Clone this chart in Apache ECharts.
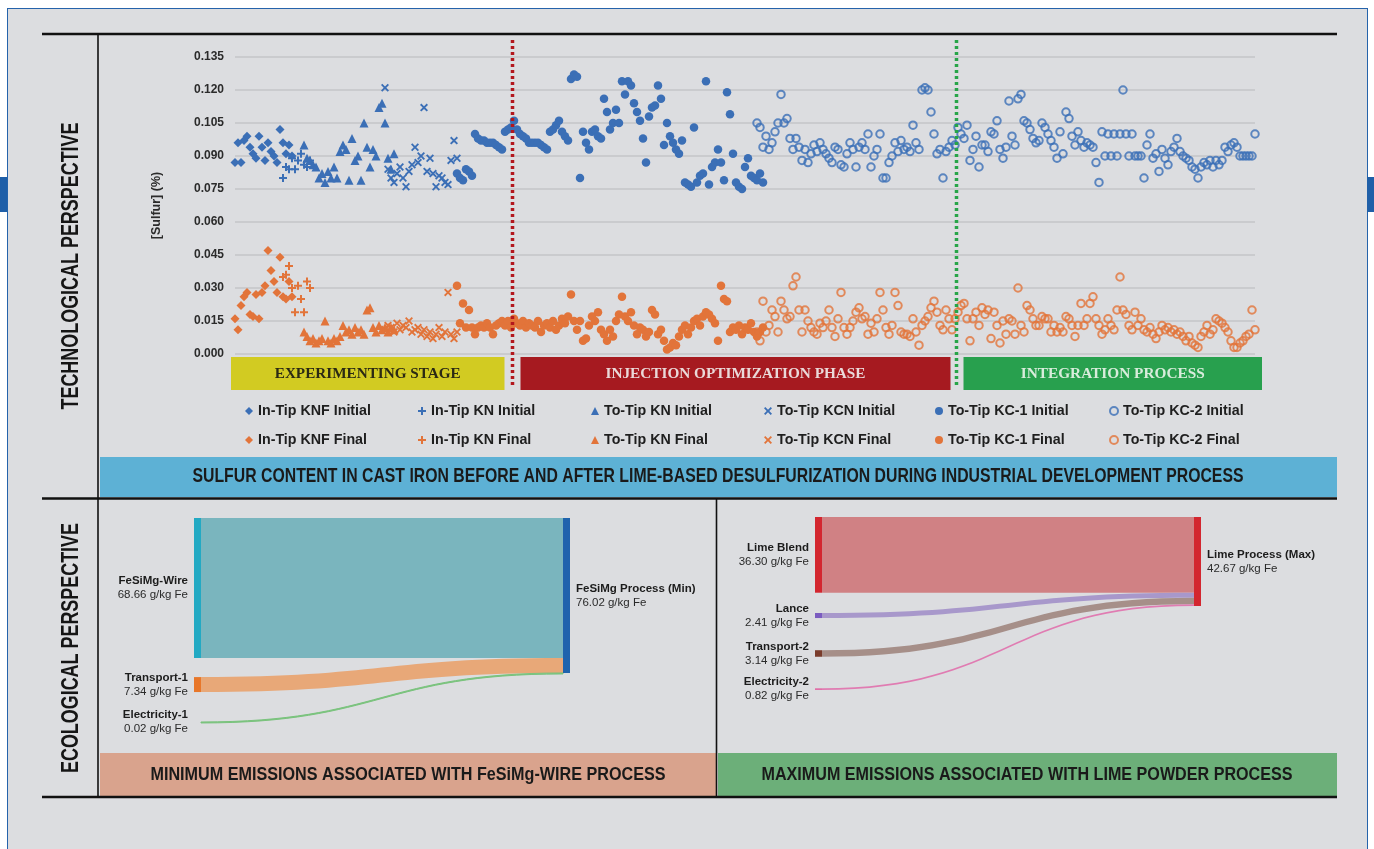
<!DOCTYPE html>
<html><head><meta charset="utf-8">
<script src="https://cdn.jsdelivr.net/npm/echarts@6/dist/echarts.min.js"></script>
<style>
html,body{margin:0;padding:0;background:#fff;width:1374px;height:849px;overflow:hidden}
#panel{position:absolute;left:7px;top:8px;width:1359px;height:860px;background:#dcdde0;border:1.5px solid #2563ab;border-bottom:none}
.tab{position:absolute;width:7px;height:35px;top:177px;background:#1f5fa8}
#chart{position:absolute;left:0;top:0;width:1374px;height:849px}
</style></head><body>
<div id="panel"></div><div class="tab" style="left:0"></div><div class="tab" style="left:1367px"></div>
<div id="chart"></div>
<script>
// ---------------- DATA ----------------
const yMin = 0, yMax = 0.135, yStep = 0.015;
const xMax = 340; // heat index range
const groupNames = ['In-Tip KNF', 'In-Tip KN', 'To-Tip KN', 'To-Tip KCN', 'To-Tip KC-1', 'To-Tip KC-2'];
const startIndex = [0, 16, 23, 50, 74, 174];

const knfInitial = [0.087,0.096,0.087,0.097,0.099,0.094,0.091,0.089,0.099,0.094,0.088,0.096,0.092,0.090,0.087,0.102,0.096,0.091,0.095,0.090];
const knfFinal   = [0.016,0.011,0.022,0.026,0.028,0.018,0.017,0.027,0.016,0.028,0.031,0.047,0.038,0.033,0.028,0.044,0.026,0.025,0.033,0.026];

const knInitial = [0.080,0.085,0.084,0.089,0.084,0.088,0.091,0.086,0.085,0.088];
const knFinal   = [0.035,0.036,0.040,0.030,0.019,0.031,0.025,0.019,0.033,0.030];

const ttknInitial = [0.095,0.089,0.088,0.086,0.085,0.080,0.082,0.078,0.083,0.080,
  0.085,0.080,0.092,0.095,0.093,0.079,0.098,0.088,0.090,0.079,
  0.105,0.094,0.085,0.093,0.090,0.112,0.114,0.105,0.089,0.084,0.091];
const ttknFinal = [0.010,0.008,0.006,0.007,0.005,0.006,0.007,0.015,0.006,0.005,
  0.007,0.006,0.008,0.013,0.010,0.011,0.009,0.012,0.010,0.011,
  0.009,0.020,0.021,0.012,0.010,0.013,0.011,0.012,0.010,0.012,0.011];

const kcnInitial = [0.121,0.084,0.080,0.078,0.082,0.085,0.080,0.076,0.083,0.086,
  0.094,0.087,0.090,0.112,0.083,0.089,0.082,0.076,0.081,0.080,
  0.078,0.077,0.088,0.097,0.089];
const kcnFinal = [0.011,0.013,0.012,0.010,0.014,0.011,0.013,0.012,0.015,0.010,
  0.011,0.012,0.009,0.011,0.008,0.010,0.007,0.009,0.012,0.008,
  0.010,0.028,0.009,0.007,0.010];

const kc1Initial = [
  0.082,0.080,0.079,0.084,0.083,0.081,0.100,0.098,0.097,0.097,
  0.096,0.096,0.096,0.095,0.094,0.093,0.101,0.102,0.103,0.106,
  0.102,0.100,0.099,0.098,0.096,0.096,0.096,0.096,0.095,0.094,
  0.093,0.101,0.102,0.104,0.106,0.101,0.099,0.097,0.125,0.127,
  0.126,0.080,0.101,0.096,0.093,0.101,0.102,0.099,0.098,0.116,
  0.110,0.102,0.105,0.111,0.105,0.124,0.118,0.124,0.122,0.114,
  0.110,0.106,0.098,0.087,0.108,0.112,0.113,0.122,0.116,0.095,
  0.105,0.099,0.096,0.093,0.091,0.097,0.078,0.077,0.076,0.103,
  0.078,0.081,0.082,0.124,0.077,0.085,0.087,0.093,0.087,0.079,
  0.119,0.109,0.091,0.078,0.076,0.075,0.085,0.089,0.081,0.080,
  0.079,0.082,0.078];
const kc1Final = [
  0.031,0.014,0.023,0.012,0.020,0.012,0.009,0.012,0.013,0.012,
  0.014,0.012,0.009,0.013,0.014,0.015,0.013,0.015,0.012,0.016,
  0.014,0.013,0.015,0.012,0.014,0.013,0.012,0.015,0.010,0.013,
  0.014,0.012,0.015,0.011,0.013,0.016,0.014,0.017,0.027,0.015,
  0.011,0.015,0.006,0.007,0.013,0.017,0.015,0.019,0.011,0.009,
  0.006,0.011,0.008,0.015,0.018,0.026,0.017,0.015,0.019,0.013,
  0.009,0.012,0.011,0.008,0.010,0.020,0.018,0.009,0.011,0.006,
  0.002,0.003,0.005,0.004,0.008,0.011,0.013,0.009,0.012,0.015,
  0.016,0.013,0.017,0.019,0.018,0.016,0.014,0.006,0.031,0.025,
  0.024,0.010,0.012,0.011,0.013,0.009,0.012,0.011,0.014,0.010,
  0.008,0.010,0.012];

const kc2Initial = [
  0.105,0.103,0.094,0.099,0.093,0.096,0.101,0.105,0.118,0.105,
  0.107,0.098,0.093,0.098,0.094,0.088,0.093,0.087,0.091,0.095,
  0.092,0.096,0.093,0.091,0.089,0.087,0.094,0.093,0.086,0.085,
  0.091,0.096,0.093,0.085,0.094,0.096,0.093,0.100,0.085,0.090,
  0.093,0.100,0.080,0.080,0.087,0.090,0.096,0.092,0.097,0.093,
  0.094,0.092,0.104,0.096,0.093,0.120,0.121,0.120,0.110,0.100,
  0.091,0.093,0.080,0.092,0.094,0.097,0.095,0.103,0.100,0.098,
  0.104,0.088,0.093,0.099,0.085,0.095,0.095,0.092,0.101,0.100,
  0.106,0.093,0.089,0.094,0.115,0.099,0.095,0.116,0.118,0.106,
  0.105,0.102,0.098,0.096,0.097,0.105,0.103,0.100,0.097,0.094,
  0.089,0.101,0.091,0.110,0.107,0.099,0.095,0.101,0.097,0.094,
  0.096,0.095,0.094,0.087,0.078,0.101,0.090,0.100,0.090,0.100,
  0.090,0.100,0.120,0.100,0.090,0.100,0.090,0.090,0.090,0.080,
  0.095,0.100,0.089,0.091,0.083,0.093,0.089,0.086,0.092,0.094,
  0.098,0.092,0.090,0.089,0.088,0.085,0.084,0.080,0.085,0.087,
  0.086,0.088,0.085,0.088,0.086,0.088,0.094,0.092,0.095,0.096,
  0.094,0.090,0.090,0.090,0.090,0.090,0.100];
const kc2Final = [
  0.010,0.006,0.024,0.010,0.013,0.020,0.017,0.010,0.024,0.020,
  0.016,0.017,0.031,0.035,0.020,0.010,0.020,0.015,0.012,0.010,
  0.009,0.014,0.012,0.015,0.020,0.012,0.008,0.016,0.028,0.012,
  0.009,0.012,0.015,0.019,0.021,0.016,0.017,0.009,0.014,0.010,
  0.016,0.028,0.020,0.012,0.009,0.013,0.028,0.022,0.010,0.009,
  0.009,0.008,0.016,0.010,0.004,0.013,0.015,0.017,0.021,0.024,
  0.019,0.013,0.011,0.020,0.016,0.011,0.016,0.019,0.022,0.023,
  0.016,0.006,0.016,0.019,0.013,0.021,0.018,0.020,0.007,0.019,
  0.013,0.005,0.015,0.009,0.016,0.015,0.009,0.030,0.013,0.010,
  0.022,0.020,0.016,0.013,0.013,0.017,0.016,0.016,0.010,0.013,
  0.010,0.012,0.010,0.017,0.016,0.013,0.008,0.013,0.023,0.013,
  0.016,0.023,0.026,0.016,0.013,0.009,0.011,0.016,0.013,0.011,
  0.020,0.035,0.020,0.018,0.013,0.011,0.019,0.013,0.016,0.011,
  0.010,0.012,0.009,0.007,0.010,0.013,0.011,0.012,0.010,0.011,
  0.009,0.010,0.008,0.006,0.008,0.005,0.004,0.003,0.008,0.010,
  0.013,0.009,0.011,0.016,0.015,0.014,0.012,0.010,0.006,0.003,
  0.003,0.005,0.006,0.008,0.009,0.020,0.011];

const phaseNames = ['EXPERIMENTING STAGE', 'INJECTION OPTIMIZATION PHASE', 'INTEGRATION PROCESS'];
const phaseBreaks = [92.5, 240.5];

const sankey1Sources = ['FeSiMg-Wire', 'Transport-1', 'Electricity-1'];
const sankey1Values = [68.66, 7.34, 0.02];
const sankey1Target = 'FeSiMg Process (Min)';
const sankey2Sources = ['Lime Blend', 'Lance', 'Transport-2', 'Electricity-2'];
const sankey2Values = [36.30, 2.41, 3.14, 0.82];
const sankey2Target = 'Lime Process (Max)';

const titleText = 'SULFUR CONTENT IN CAST IRON BEFORE AND AFTER LIME-BASED DESULFURIZATION DURING INDUSTRIAL DEVELOPMENT PROCESS';
const minText = 'MINIMUM EMISSIONS ASSOCIATED WITH FeSiMg-WIRE PROCESS';
const maxText = 'MAXIMUM EMISSIONS ASSOCIATED WITH LIME POWDER PROCESS';
const techText = 'TECHNOLOGICAL PERSPECTIVE';
const ecoText = 'ECOLOGICAL PERSPECTIVE';

// ---------------- STYLE ----------------
const SANS = "'Liberation Sans', Arial, sans-serif";
const SERIF = "'Liberation Serif', 'Times New Roman', serif";
const BLUE = '#3b6fb6', ORANGE = '#e2743a';
const ctx = document.createElement('canvas').getContext('2d');
function measure(text, font) { ctx.font = font; return ctx.measureText(text).width; }
function fit(text, font, target) { return target / measure(text, font); }

const plusPath = 'path://M3,0H5V3H8V5H5V8H3V5H0V3H3Z';
const crossPath = 'path://M1.3,0L4,2.7L6.7,0L8,1.3L5.3,4L8,6.7L6.7,8L4,5.3L1.3,8L0,6.7L2.7,4L0,1.3Z';
const groups = [
  {ini: knfInitial, fin: knfFinal, symbol: 'diamond', size: 9},
  {ini: knInitial, fin: knFinal, symbol: plusPath, size: 8},
  {ini: ttknInitial, fin: ttknFinal, symbol: 'triangle', size: 9},
  {ini: kcnInitial, fin: kcnFinal, symbol: crossPath, size: 8},
  {ini: kc1Initial, fin: kc1Final, symbol: 'circle', size: 8.5},
  {ini: kc2Initial, fin: kc2Final, symbol: 'circle', size: 7.5, hollow: true}
];
function scatter(name, vals, start, g, color) {
  return {
    type: 'scatter', name: name, silent: true, z: 3,
    data: vals.map((v, i) => [start + i, v]),
    symbol: g.symbol, symbolSize: g.size,
    itemStyle: g.hollow ? {color: 'rgba(0,0,0,0)', borderColor: color, borderWidth: 2}
                        : {color: color, opacity: 1},
    emphasis: {disabled: true}
  };
}
const series = [];
groups.forEach((g, k) => {
  series.push(scatter(groupNames[k] + ' Initial', g.ini, startIndex[k], g, BLUE));
  series.push(scatter(groupNames[k] + ' Final', g.fin, startIndex[k], g, ORANGE));
});

// Sankeys
const NODE_W = 7;
const labelRich = {
  n: {fontFamily: SANS, fontWeight: 'bold', fontSize: 11.5, color: '#1c1c1c', lineHeight: 14},
  v: {fontFamily: SANS, fontSize: 11.5, color: '#2a2a2a', lineHeight: 14}
};
const fmt = p => '{n|' + p.name + '}\n{v|' + p.value.toFixed(2) + ' g/kg Fe}';
const s1NodeColors = ['#22a9c3', '#e8772a', '#5cb85c'];
const s1LinkColors = ['#7ab5be', '#e8a878', '#79c27c'];
const s2NodeColors = ['#d3262f', '#7b5cc0', '#7a3c2c', '#e070a8'];
const s2LinkColors = ['#d08184', '#a898cb', '#a68f89', '#e07cb2'];
// relative vertical placement of source nodes inside each sankey box
const s1LocalY = [0, 0.776, 0.995];
const s2LocalY = [0, 0.555, 0.77, 0.99];
function sankey(sources, values, target, nodeColors, linkColors, targetColor, localY, pos) {
  const rightX = 1 - NODE_W / pos.width;
  const data = sources.map((s, i) => ({name: s, localX: 0, localY: localY[i], itemStyle: {color: nodeColors[i]}, label: {position: 'left'}}));
  data.push({name: target, localX: rightX, localY: 0, itemStyle: {color: targetColor}, label: {position: 'right'}});
  const links = sources.map((s, i) => ({
    source: s, target: target, value: values[i],
    lineStyle: values[i] < 0.1 ? {color: linkColors[i], opacity: 1, borderColor: linkColors[i], borderWidth: 1}
                                : {color: linkColors[i], opacity: 1}
  }));
  return Object.assign({
    type: 'sankey', silent: true, nodeWidth: NODE_W, layoutIterations: 0, draggable: false,
    emphasis: {disabled: true},
    label: {show: true, formatter: fmt, rich: labelRich, distance: 6},
    itemStyle: {borderWidth: 0},
    data: data, links: links
  }, pos);
}
series.push(sankey(sankey1Sources, sankey1Values, sankey1Target, s1NodeColors, s1LinkColors, '#1f63ad', s1LocalY,
  {left: 194, top: 518, width: 376, height: 205, nodeGap: 25}));
series.push(sankey(sankey2Sources, sankey2Values, sankey2Target, s2NodeColors, s2LinkColors, '#d3262f', s2LocalY,
  {left: 815, top: 517, width: 386, height: 173, nodeGap: 28}));

// Legend
const legFont = 'bold 14px ' + SANS;
const legSize = 14 * fit('In-Tip KNF Initial', legFont, 113);
const legendLeft = [245, 418, 591, 764, 935, 1109];
const legends = groupNames.map((n, k) => ({
  orient: 'vertical', left: legendLeft[k], top: 403, padding: 0, itemWidth: 8, itemHeight: 8, itemGap: 13,
  selectedMode: false, data: [n + ' Initial', n + ' Final'],
  textStyle: {fontFamily: SANS, fontWeight: 'bold', fontSize: legSize, color: '#1e1e1e', lineHeight: 16}
}));

const chart = echarts.init(document.getElementById('chart'), null, {renderer: 'canvas', width: 1374, height: 849});
chart.setOption({
  animation: false,
  backgroundColor: 'transparent',
  grid: {left: 235, top: 57, width: 1020, height: 297, containLabel: false},
  xAxis: {type: 'value', min: 0, max: xMax, show: false, splitLine: {show: false}},
  yAxis: {
    type: 'value', min: yMin, max: yMax, interval: yStep,
    name: '[Sulfur] (%)', nameLocation: 'middle', nameRotate: 90, nameGap: 72,
    nameTextStyle: {fontFamily: SANS, fontWeight: 'bold', fontSize: 12.5, color: '#2b2b2b'},
    axisLine: {show: false}, axisTick: {show: false},
    axisLabel: {margin: 11, fontFamily: SANS, fontWeight: 'bold', fontSize: 12, color: '#2b2b2b', formatter: v => v.toFixed(3)},
    splitLine: {lineStyle: {color: '#c4c5c8', width: 1.5}}
  },
  legend: legends,
  series: series
});

// ---------------- DECORATION ----------------
const px = v => chart.convertToPixel({gridIndex: 0}, [v, 0])[0];
const b0 = px(0), b1 = px(phaseBreaks[0]), b2 = px(phaseBreaks[1]), b3 = px(xMax);
const phaseRects = [[b0 - 4, b1 - 8], [b1 + 8, b2 - 6], [b2 + 7, b3 + 7]];
const phaseColors = ['#d2cb22', '#a61a20', '#28a04e'];
const phaseTextColors = ['#2b2a14', '#ead9d9', '#d8ecdb'];
const phaseWidths = [186, 260, 184];
const g = [];
function line(x1, y1, x2, y2, w, color, dash, z) {
  g.push({type: 'line', z: z || 5, silent: true, shape: {x1, y1, x2, y2},
    style: {stroke: color || '#111', lineWidth: w, lineDash: dash || null}});
}
function rect(x, y, w, h, fill) {
  g.push({type: 'rect', z: 1, silent: true, shape: {x, y, width: w, height: h}, style: {fill}});
}
function text(t, x, y, font, fill, target, rot) {
  g.push({type: 'text', z: 6, silent: true, x, y, rotation: rot || 0, scaleX: fit(t, font, target),
    style: {text: t, font, fill, align: 'center', verticalAlign: 'middle'}});
}
// banners
rect(100, 457, 1237, 40, '#5db1d5');
rect(100, 753, 616, 43, '#d9a38d');
rect(718, 753, 619, 43, '#6caf79');
phaseRects.forEach((r, i) => {
  rect(r[0], 357, r[1] - r[0], 33, phaseColors[i]);
  text(phaseNames[i], (r[0] + r[1]) / 2, 374, 'bold 14px ' + SERIF, phaseTextColors[i], phaseWidths[i]);
});
// dotted phase separators
line(b1, 40, b1, 388, 3.5, '#b3171d', [3, 3], 10);
line(b2, 40, b2, 388, 3.5, '#27a548', [3, 3], 10);
// frame lines
line(42, 34, 1337, 34, 2.5);
line(42, 498.5, 1337, 498.5, 2.5);
line(42, 797, 1337, 797, 2.5);
line(98, 34, 98, 797, 1.6);
line(716.5, 498, 716.5, 797, 1.6);
// texts
text(titleText, 718, 476, 'bold 20px ' + SANS, '#1a1a1a', 1051);
text(minText, 408, 775, 'bold 19px ' + SANS, '#1a1a1a', 515);
text(maxText, 1027, 775, 'bold 19px ' + SANS, '#1a1a1a', 531);
text(techText, 72, 266, 'bold 23px ' + SANS, '#151515', 287, Math.PI / 2);
text(ecoText, 72, 648, 'bold 23px ' + SANS, '#151515', 250, Math.PI / 2);

chart.setOption({graphic: {elements: g}});
</script>
</body></html>
